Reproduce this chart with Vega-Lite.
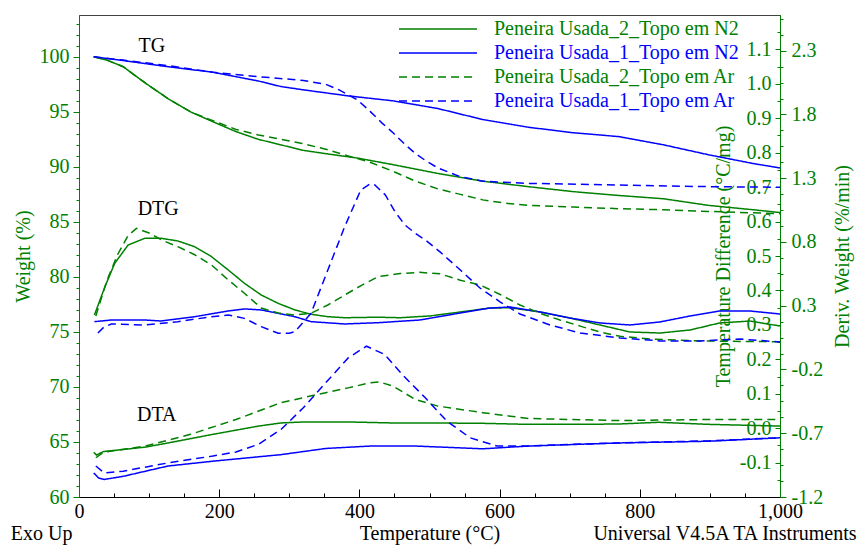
{
  "$schema": "https://vega.github.io/schema/vega-lite/v6.json",
  "width": 701,
  "height": 482,
  "autosize": {"type": "none"},
  "padding": {"left": 79, "top": 15, "right": 81, "bottom": 49},
  "background": "white",
  "config": {
    "view": {"stroke": "#444444", "strokeWidth": 1},
    "font": "Liberation Serif",
    "axis": {"labelFont": "Liberation Serif", "titleFont": "Liberation Serif", "labelFontSize": 20, "titleFontSize": 20, "titleFontWeight": "normal", "grid": false, "labelOverlap": false, "labelFlush": false, "labelBound": false},
    "legend": {"labelFont": "Liberation Serif", "labelFontSize": 20}
  },
  "datasets": {
    "tg": [
      {"s": "Peneira Usada_2_Topo em N2", "t": 21, "v": 100}, {"s": "Peneira Usada_2_Topo em N2", "t": 40, "v": 99.7}, {"s": "Peneira Usada_2_Topo em N2", "t": 63, "v": 99.1}, {"s": "Peneira Usada_2_Topo em N2", "t": 95, "v": 97.6}, {"s": "Peneira Usada_2_Topo em N2", "t": 127, "v": 96.2}, {"s": "Peneira Usada_2_Topo em N2", "t": 159, "v": 95.0}, {"s": "Peneira Usada_2_Topo em N2", "t": 191, "v": 94.1}, {"s": "Peneira Usada_2_Topo em N2", "t": 224, "v": 93.2}, {"s": "Peneira Usada_2_Topo em N2", "t": 256, "v": 92.5}, {"s": "Peneira Usada_2_Topo em N2", "t": 288, "v": 92.0}, {"s": "Peneira Usada_2_Topo em N2", "t": 320, "v": 91.5}, {"s": "Peneira Usada_2_Topo em N2", "t": 352, "v": 91.2}, {"s": "Peneira Usada_2_Topo em N2", "t": 397, "v": 90.8}, {"s": "Peneira Usada_2_Topo em N2", "t": 448, "v": 90.2}, {"s": "Peneira Usada_2_Topo em N2", "t": 512, "v": 89.4}, {"s": "Peneira Usada_2_Topo em N2", "t": 576, "v": 88.7}, {"s": "Peneira Usada_2_Topo em N2", "t": 641, "v": 88.2}, {"s": "Peneira Usada_2_Topo em N2", "t": 705, "v": 87.75}, {"s": "Peneira Usada_2_Topo em N2", "t": 770, "v": 87.4}, {"s": "Peneira Usada_2_Topo em N2", "t": 834, "v": 87.1}, {"s": "Peneira Usada_2_Topo em N2", "t": 898, "v": 86.5}, {"s": "Peneira Usada_2_Topo em N2", "t": 962, "v": 86.1}, {"s": "Peneira Usada_2_Topo em N2", "t": 1000, "v": 85.85},
      {"s": "Peneira Usada_1_Topo em N2", "t": 21, "v": 100}, {"s": "Peneira Usada_1_Topo em N2", "t": 63, "v": 99.66}, {"s": "Peneira Usada_1_Topo em N2", "t": 127, "v": 99.1}, {"s": "Peneira Usada_1_Topo em N2", "t": 191, "v": 98.6}, {"s": "Peneira Usada_1_Topo em N2", "t": 256, "v": 97.8}, {"s": "Peneira Usada_1_Topo em N2", "t": 288, "v": 97.3}, {"s": "Peneira Usada_1_Topo em N2", "t": 320, "v": 97.0}, {"s": "Peneira Usada_1_Topo em N2", "t": 384, "v": 96.45}, {"s": "Peneira Usada_1_Topo em N2", "t": 448, "v": 96.0}, {"s": "Peneira Usada_1_Topo em N2", "t": 512, "v": 95.3}, {"s": "Peneira Usada_1_Topo em N2", "t": 576, "v": 94.3}, {"s": "Peneira Usada_1_Topo em N2", "t": 641, "v": 93.6}, {"s": "Peneira Usada_1_Topo em N2", "t": 705, "v": 93.1}, {"s": "Peneira Usada_1_Topo em N2", "t": 770, "v": 92.75}, {"s": "Peneira Usada_1_Topo em N2", "t": 834, "v": 92.0}, {"s": "Peneira Usada_1_Topo em N2", "t": 898, "v": 91.1}, {"s": "Peneira Usada_1_Topo em N2", "t": 962, "v": 90.3}, {"s": "Peneira Usada_1_Topo em N2", "t": 1000, "v": 89.9},
      {"s": "Peneira Usada_2_Topo em Ar", "t": 21, "v": 100}, {"s": "Peneira Usada_2_Topo em Ar", "t": 40, "v": 99.7}, {"s": "Peneira Usada_2_Topo em Ar", "t": 63, "v": 99.1}, {"s": "Peneira Usada_2_Topo em Ar", "t": 95, "v": 97.6}, {"s": "Peneira Usada_2_Topo em Ar", "t": 127, "v": 96.2}, {"s": "Peneira Usada_2_Topo em Ar", "t": 159, "v": 95.0}, {"s": "Peneira Usada_2_Topo em Ar", "t": 191, "v": 94.2}, {"s": "Peneira Usada_2_Topo em Ar", "t": 224, "v": 93.4}, {"s": "Peneira Usada_2_Topo em Ar", "t": 256, "v": 92.9}, {"s": "Peneira Usada_2_Topo em Ar", "t": 288, "v": 92.5}, {"s": "Peneira Usada_2_Topo em Ar", "t": 320, "v": 92.1}, {"s": "Peneira Usada_2_Topo em Ar", "t": 352, "v": 91.6}, {"s": "Peneira Usada_2_Topo em Ar", "t": 384, "v": 91.0}, {"s": "Peneira Usada_2_Topo em Ar", "t": 416, "v": 90.4}, {"s": "Peneira Usada_2_Topo em Ar", "t": 448, "v": 89.6}, {"s": "Peneira Usada_2_Topo em Ar", "t": 480, "v": 88.7}, {"s": "Peneira Usada_2_Topo em Ar", "t": 512, "v": 88.0}, {"s": "Peneira Usada_2_Topo em Ar", "t": 544, "v": 87.5}, {"s": "Peneira Usada_2_Topo em Ar", "t": 576, "v": 87.0}, {"s": "Peneira Usada_2_Topo em Ar", "t": 608, "v": 86.7}, {"s": "Peneira Usada_2_Topo em Ar", "t": 641, "v": 86.5}, {"s": "Peneira Usada_2_Topo em Ar", "t": 705, "v": 86.35}, {"s": "Peneira Usada_2_Topo em Ar", "t": 770, "v": 86.2}, {"s": "Peneira Usada_2_Topo em Ar", "t": 834, "v": 86.1}, {"s": "Peneira Usada_2_Topo em Ar", "t": 898, "v": 85.95}, {"s": "Peneira Usada_2_Topo em Ar", "t": 1000, "v": 85.75},
      {"s": "Peneira Usada_1_Topo em Ar", "t": 21, "v": 100}, {"s": "Peneira Usada_1_Topo em Ar", "t": 63, "v": 99.7}, {"s": "Peneira Usada_1_Topo em Ar", "t": 127, "v": 99.2}, {"s": "Peneira Usada_1_Topo em Ar", "t": 191, "v": 98.6}, {"s": "Peneira Usada_1_Topo em Ar", "t": 256, "v": 98.2}, {"s": "Peneira Usada_1_Topo em Ar", "t": 320, "v": 97.85}, {"s": "Peneira Usada_1_Topo em Ar", "t": 352, "v": 97.5}, {"s": "Peneira Usada_1_Topo em Ar", "t": 371, "v": 97.0}, {"s": "Peneira Usada_1_Topo em Ar", "t": 397, "v": 96.1}, {"s": "Peneira Usada_1_Topo em Ar", "t": 416, "v": 95.0}, {"s": "Peneira Usada_1_Topo em Ar", "t": 432, "v": 94.0}, {"s": "Peneira Usada_1_Topo em Ar", "t": 448, "v": 93.1}, {"s": "Peneira Usada_1_Topo em Ar", "t": 464, "v": 92.1}, {"s": "Peneira Usada_1_Topo em Ar", "t": 480, "v": 91.2}, {"s": "Peneira Usada_1_Topo em Ar", "t": 496, "v": 90.5}, {"s": "Peneira Usada_1_Topo em Ar", "t": 512, "v": 89.9}, {"s": "Peneira Usada_1_Topo em Ar", "t": 544, "v": 89.1}, {"s": "Peneira Usada_1_Topo em Ar", "t": 576, "v": 88.7}, {"s": "Peneira Usada_1_Topo em Ar", "t": 641, "v": 88.5}, {"s": "Peneira Usada_1_Topo em Ar", "t": 770, "v": 88.35}, {"s": "Peneira Usada_1_Topo em Ar", "t": 898, "v": 88.2}, {"s": "Peneira Usada_1_Topo em Ar", "t": 1000, "v": 88.15}
    ],
    "dtg": [
      {"s": "Peneira Usada_2_Topo em N2", "t": 22, "v": 0.227}, {"s": "Peneira Usada_2_Topo em N2", "t": 37, "v": 0.449}, {"s": "Peneira Usada_2_Topo em N2", "t": 51, "v": 0.633}, {"s": "Peneira Usada_2_Topo em N2", "t": 70, "v": 0.776}, {"s": "Peneira Usada_2_Topo em N2", "t": 94, "v": 0.829}, {"s": "Peneira Usada_2_Topo em N2", "t": 117, "v": 0.829}, {"s": "Peneira Usada_2_Topo em N2", "t": 141, "v": 0.808}, {"s": "Peneira Usada_2_Topo em N2", "t": 165, "v": 0.763}, {"s": "Peneira Usada_2_Topo em N2", "t": 189, "v": 0.685}, {"s": "Peneira Usada_2_Topo em N2", "t": 213, "v": 0.58}, {"s": "Peneira Usada_2_Topo em N2", "t": 236, "v": 0.476}, {"s": "Peneira Usada_2_Topo em N2", "t": 260, "v": 0.384}, {"s": "Peneira Usada_2_Topo em N2", "t": 284, "v": 0.319}, {"s": "Peneira Usada_2_Topo em N2", "t": 308, "v": 0.267}, {"s": "Peneira Usada_2_Topo em N2", "t": 331, "v": 0.233}, {"s": "Peneira Usada_2_Topo em N2", "t": 355, "v": 0.214}, {"s": "Peneira Usada_2_Topo em N2", "t": 379, "v": 0.206}, {"s": "Peneira Usada_2_Topo em N2", "t": 427, "v": 0.21}, {"s": "Peneira Usada_2_Topo em N2", "t": 458, "v": 0.206}, {"s": "Peneira Usada_2_Topo em N2", "t": 501, "v": 0.22}, {"s": "Peneira Usada_2_Topo em N2", "t": 544, "v": 0.251}, {"s": "Peneira Usada_2_Topo em N2", "t": 586, "v": 0.282}, {"s": "Peneira Usada_2_Topo em N2", "t": 615, "v": 0.284}, {"s": "Peneira Usada_2_Topo em N2", "t": 658, "v": 0.251}, {"s": "Peneira Usada_2_Topo em N2", "t": 700, "v": 0.204}, {"s": "Peneira Usada_2_Topo em N2", "t": 743, "v": 0.149}, {"s": "Peneira Usada_2_Topo em N2", "t": 786, "v": 0.094}, {"s": "Peneira Usada_2_Topo em N2", "t": 829, "v": 0.086}, {"s": "Peneira Usada_2_Topo em N2", "t": 872, "v": 0.11}, {"s": "Peneira Usada_2_Topo em N2", "t": 914, "v": 0.165}, {"s": "Peneira Usada_2_Topo em N2", "t": 957, "v": 0.18}, {"s": "Peneira Usada_2_Topo em N2", "t": 1000, "v": 0.141},
      {"s": "Peneira Usada_1_Topo em N2", "t": 22, "v": 0.175}, {"s": "Peneira Usada_1_Topo em N2", "t": 46, "v": 0.188}, {"s": "Peneira Usada_1_Topo em N2", "t": 94, "v": 0.188}, {"s": "Peneira Usada_1_Topo em N2", "t": 117, "v": 0.18}, {"s": "Peneira Usada_1_Topo em N2", "t": 165, "v": 0.214}, {"s": "Peneira Usada_1_Topo em N2", "t": 213, "v": 0.259}, {"s": "Peneira Usada_1_Topo em N2", "t": 236, "v": 0.275}, {"s": "Peneira Usada_1_Topo em N2", "t": 260, "v": 0.267}, {"s": "Peneira Usada_1_Topo em N2", "t": 308, "v": 0.214}, {"s": "Peneira Usada_1_Topo em N2", "t": 331, "v": 0.175}, {"s": "Peneira Usada_1_Topo em N2", "t": 379, "v": 0.157}, {"s": "Peneira Usada_1_Topo em N2", "t": 427, "v": 0.167}, {"s": "Peneira Usada_1_Topo em N2", "t": 486, "v": 0.188}, {"s": "Peneira Usada_1_Topo em N2", "t": 544, "v": 0.243}, {"s": "Peneira Usada_1_Topo em N2", "t": 586, "v": 0.282}, {"s": "Peneira Usada_1_Topo em N2", "t": 615, "v": 0.29}, {"s": "Peneira Usada_1_Topo em N2", "t": 658, "v": 0.251}, {"s": "Peneira Usada_1_Topo em N2", "t": 700, "v": 0.204}, {"s": "Peneira Usada_1_Topo em N2", "t": 743, "v": 0.165}, {"s": "Peneira Usada_1_Topo em N2", "t": 786, "v": 0.149}, {"s": "Peneira Usada_1_Topo em N2", "t": 829, "v": 0.173}, {"s": "Peneira Usada_1_Topo em N2", "t": 872, "v": 0.22}, {"s": "Peneira Usada_1_Topo em N2", "t": 914, "v": 0.259}, {"s": "Peneira Usada_1_Topo em N2", "t": 957, "v": 0.259}, {"s": "Peneira Usada_1_Topo em N2", "t": 1000, "v": 0.235},
      {"s": "Peneira Usada_2_Topo em Ar", "t": 24, "v": 0.22}, {"s": "Peneira Usada_2_Topo em Ar", "t": 40, "v": 0.5}, {"s": "Peneira Usada_2_Topo em Ar", "t": 55, "v": 0.7}, {"s": "Peneira Usada_2_Topo em Ar", "t": 70, "v": 0.85}, {"s": "Peneira Usada_2_Topo em Ar", "t": 82, "v": 0.907}, {"s": "Peneira Usada_2_Topo em Ar", "t": 100, "v": 0.87}, {"s": "Peneira Usada_2_Topo em Ar", "t": 120, "v": 0.81}, {"s": "Peneira Usada_2_Topo em Ar", "t": 141, "v": 0.763}, {"s": "Peneira Usada_2_Topo em Ar", "t": 165, "v": 0.7}, {"s": "Peneira Usada_2_Topo em Ar", "t": 189, "v": 0.62}, {"s": "Peneira Usada_2_Topo em Ar", "t": 213, "v": 0.502}, {"s": "Peneira Usada_2_Topo em Ar", "t": 236, "v": 0.398}, {"s": "Peneira Usada_2_Topo em Ar", "t": 260, "v": 0.282}, {"s": "Peneira Usada_2_Topo em Ar", "t": 284, "v": 0.243}, {"s": "Peneira Usada_2_Topo em Ar", "t": 308, "v": 0.227}, {"s": "Peneira Usada_2_Topo em Ar", "t": 331, "v": 0.241}, {"s": "Peneira Usada_2_Topo em Ar", "t": 355, "v": 0.306}, {"s": "Peneira Usada_2_Topo em Ar", "t": 379, "v": 0.384}, {"s": "Peneira Usada_2_Topo em Ar", "t": 403, "v": 0.46}, {"s": "Peneira Usada_2_Topo em Ar", "t": 427, "v": 0.528}, {"s": "Peneira Usada_2_Topo em Ar", "t": 458, "v": 0.552}, {"s": "Peneira Usada_2_Topo em Ar", "t": 486, "v": 0.562}, {"s": "Peneira Usada_2_Topo em Ar", "t": 515, "v": 0.55}, {"s": "Peneira Usada_2_Topo em Ar", "t": 544, "v": 0.5}, {"s": "Peneira Usada_2_Topo em Ar", "t": 572, "v": 0.463}, {"s": "Peneira Usada_2_Topo em Ar", "t": 600, "v": 0.39}, {"s": "Peneira Usada_2_Topo em Ar", "t": 629, "v": 0.306}, {"s": "Peneira Usada_2_Topo em Ar", "t": 658, "v": 0.24}, {"s": "Peneira Usada_2_Topo em Ar", "t": 686, "v": 0.188}, {"s": "Peneira Usada_2_Topo em Ar", "t": 715, "v": 0.14}, {"s": "Peneira Usada_2_Topo em Ar", "t": 743, "v": 0.094}, {"s": "Peneira Usada_2_Topo em Ar", "t": 772, "v": 0.06}, {"s": "Peneira Usada_2_Topo em Ar", "t": 815, "v": 0.039}, {"s": "Peneira Usada_2_Topo em Ar", "t": 886, "v": 0.024}, {"s": "Peneira Usada_2_Topo em Ar", "t": 943, "v": 0.02}, {"s": "Peneira Usada_2_Topo em Ar", "t": 1000, "v": 0.018},
      {"s": "Peneira Usada_1_Topo em Ar", "t": 27, "v": 0.086}, {"s": "Peneira Usada_1_Topo em Ar", "t": 35, "v": 0.13}, {"s": "Peneira Usada_1_Topo em Ar", "t": 46, "v": 0.157}, {"s": "Peneira Usada_1_Topo em Ar", "t": 94, "v": 0.149}, {"s": "Peneira Usada_1_Topo em Ar", "t": 141, "v": 0.175}, {"s": "Peneira Usada_1_Topo em Ar", "t": 189, "v": 0.214}, {"s": "Peneira Usada_1_Topo em Ar", "t": 213, "v": 0.227}, {"s": "Peneira Usada_1_Topo em Ar", "t": 236, "v": 0.201}, {"s": "Peneira Usada_1_Topo em Ar", "t": 260, "v": 0.136}, {"s": "Peneira Usada_1_Topo em Ar", "t": 284, "v": 0.084}, {"s": "Peneira Usada_1_Topo em Ar", "t": 300, "v": 0.085}, {"s": "Peneira Usada_1_Topo em Ar", "t": 308, "v": 0.097}, {"s": "Peneira Usada_1_Topo em Ar", "t": 331, "v": 0.241}, {"s": "Peneira Usada_1_Topo em Ar", "t": 355, "v": 0.58}, {"s": "Peneira Usada_1_Topo em Ar", "t": 379, "v": 0.92}, {"s": "Peneira Usada_1_Topo em Ar", "t": 402, "v": 1.208}, {"s": "Peneira Usada_1_Topo em Ar", "t": 415, "v": 1.255}, {"s": "Peneira Usada_1_Topo em Ar", "t": 422, "v": 1.247}, {"s": "Peneira Usada_1_Topo em Ar", "t": 437, "v": 1.169}, {"s": "Peneira Usada_1_Topo em Ar", "t": 451, "v": 1.035}, {"s": "Peneira Usada_1_Topo em Ar", "t": 465, "v": 0.933}, {"s": "Peneira Usada_1_Topo em Ar", "t": 479, "v": 0.871}, {"s": "Peneira Usada_1_Topo em Ar", "t": 494, "v": 0.816}, {"s": "Peneira Usada_1_Topo em Ar", "t": 515, "v": 0.722}, {"s": "Peneira Usada_1_Topo em Ar", "t": 544, "v": 0.58}, {"s": "Peneira Usada_1_Topo em Ar", "t": 572, "v": 0.439}, {"s": "Peneira Usada_1_Topo em Ar", "t": 601, "v": 0.329}, {"s": "Peneira Usada_1_Topo em Ar", "t": 629, "v": 0.235}, {"s": "Peneira Usada_1_Topo em Ar", "t": 672, "v": 0.149}, {"s": "Peneira Usada_1_Topo em Ar", "t": 715, "v": 0.086}, {"s": "Peneira Usada_1_Topo em Ar", "t": 772, "v": 0.047}, {"s": "Peneira Usada_1_Topo em Ar", "t": 829, "v": 0.024}, {"s": "Peneira Usada_1_Topo em Ar", "t": 886, "v": 0.024}, {"s": "Peneira Usada_1_Topo em Ar", "t": 943, "v": 0.039}, {"s": "Peneira Usada_1_Topo em Ar", "t": 1000, "v": 0.016}
    ],
    "dta": [
      {"s": "Peneira Usada_2_Topo em N2", "t": 21, "v": -0.07}, {"s": "Peneira Usada_2_Topo em N2", "t": 25, "v": -0.078}, {"s": "Peneira Usada_2_Topo em N2", "t": 35, "v": -0.068}, {"s": "Peneira Usada_2_Topo em N2", "t": 63, "v": -0.062}, {"s": "Peneira Usada_2_Topo em N2", "t": 95, "v": -0.055}, {"s": "Peneira Usada_2_Topo em N2", "t": 127, "v": -0.043}, {"s": "Peneira Usada_2_Topo em N2", "t": 191, "v": -0.018}, {"s": "Peneira Usada_2_Topo em N2", "t": 256, "v": 0.006}, {"s": "Peneira Usada_2_Topo em N2", "t": 288, "v": 0.015}, {"s": "Peneira Usada_2_Topo em N2", "t": 320, "v": 0.018}, {"s": "Peneira Usada_2_Topo em N2", "t": 384, "v": 0.018}, {"s": "Peneira Usada_2_Topo em N2", "t": 448, "v": 0.015}, {"s": "Peneira Usada_2_Topo em N2", "t": 512, "v": 0.015}, {"s": "Peneira Usada_2_Topo em N2", "t": 576, "v": 0.014}, {"s": "Peneira Usada_2_Topo em N2", "t": 641, "v": 0.011}, {"s": "Peneira Usada_2_Topo em N2", "t": 705, "v": 0.011}, {"s": "Peneira Usada_2_Topo em N2", "t": 770, "v": 0.012}, {"s": "Peneira Usada_2_Topo em N2", "t": 827, "v": 0.017}, {"s": "Peneira Usada_2_Topo em N2", "t": 898, "v": 0.011}, {"s": "Peneira Usada_2_Topo em N2", "t": 1000, "v": 0.006},
      {"s": "Peneira Usada_1_Topo em N2", "t": 21, "v": -0.13}, {"s": "Peneira Usada_1_Topo em N2", "t": 28, "v": -0.145}, {"s": "Peneira Usada_1_Topo em N2", "t": 36, "v": -0.149}, {"s": "Peneira Usada_1_Topo em N2", "t": 63, "v": -0.14}, {"s": "Peneira Usada_1_Topo em N2", "t": 95, "v": -0.125}, {"s": "Peneira Usada_1_Topo em N2", "t": 127, "v": -0.11}, {"s": "Peneira Usada_1_Topo em N2", "t": 191, "v": -0.096}, {"s": "Peneira Usada_1_Topo em N2", "t": 288, "v": -0.077}, {"s": "Peneira Usada_1_Topo em N2", "t": 352, "v": -0.059}, {"s": "Peneira Usada_1_Topo em N2", "t": 416, "v": -0.052}, {"s": "Peneira Usada_1_Topo em N2", "t": 480, "v": -0.052}, {"s": "Peneira Usada_1_Topo em N2", "t": 576, "v": -0.06}, {"s": "Peneira Usada_1_Topo em N2", "t": 641, "v": -0.052}, {"s": "Peneira Usada_1_Topo em N2", "t": 770, "v": -0.043}, {"s": "Peneira Usada_1_Topo em N2", "t": 898, "v": -0.038}, {"s": "Peneira Usada_1_Topo em N2", "t": 1000, "v": -0.028},
      {"s": "Peneira Usada_2_Topo em Ar", "t": 24, "v": -0.086}, {"s": "Peneira Usada_2_Topo em Ar", "t": 35, "v": -0.07}, {"s": "Peneira Usada_2_Topo em Ar", "t": 95, "v": -0.052}, {"s": "Peneira Usada_2_Topo em Ar", "t": 159, "v": -0.018}, {"s": "Peneira Usada_2_Topo em Ar", "t": 224, "v": 0.025}, {"s": "Peneira Usada_2_Topo em Ar", "t": 288, "v": 0.074}, {"s": "Peneira Usada_2_Topo em Ar", "t": 352, "v": 0.103}, {"s": "Peneira Usada_2_Topo em Ar", "t": 384, "v": 0.117}, {"s": "Peneira Usada_2_Topo em Ar", "t": 416, "v": 0.132}, {"s": "Peneira Usada_2_Topo em Ar", "t": 429, "v": 0.134}, {"s": "Peneira Usada_2_Topo em Ar", "t": 448, "v": 0.122}, {"s": "Peneira Usada_2_Topo em Ar", "t": 480, "v": 0.083}, {"s": "Peneira Usada_2_Topo em Ar", "t": 512, "v": 0.064}, {"s": "Peneira Usada_2_Topo em Ar", "t": 576, "v": 0.045}, {"s": "Peneira Usada_2_Topo em Ar", "t": 641, "v": 0.028}, {"s": "Peneira Usada_2_Topo em Ar", "t": 770, "v": 0.022}, {"s": "Peneira Usada_2_Topo em Ar", "t": 898, "v": 0.025}, {"s": "Peneira Usada_2_Topo em Ar", "t": 1000, "v": 0.025},
      {"s": "Peneira Usada_1_Topo em Ar", "t": 24, "v": -0.11}, {"s": "Peneira Usada_1_Topo em Ar", "t": 36, "v": -0.13}, {"s": "Peneira Usada_1_Topo em Ar", "t": 63, "v": -0.125}, {"s": "Peneira Usada_1_Topo em Ar", "t": 127, "v": -0.101}, {"s": "Peneira Usada_1_Topo em Ar", "t": 191, "v": -0.081}, {"s": "Peneira Usada_1_Topo em Ar", "t": 224, "v": -0.069}, {"s": "Peneira Usada_1_Topo em Ar", "t": 256, "v": -0.047}, {"s": "Peneira Usada_1_Topo em Ar", "t": 288, "v": -0.004}, {"s": "Peneira Usada_1_Topo em Ar", "t": 320, "v": 0.059}, {"s": "Peneira Usada_1_Topo em Ar", "t": 352, "v": 0.132}, {"s": "Peneira Usada_1_Topo em Ar", "t": 384, "v": 0.204}, {"s": "Peneira Usada_1_Topo em Ar", "t": 410, "v": 0.238}, {"s": "Peneira Usada_1_Topo em Ar", "t": 436, "v": 0.214}, {"s": "Peneira Usada_1_Topo em Ar", "t": 461, "v": 0.156}, {"s": "Peneira Usada_1_Topo em Ar", "t": 494, "v": 0.088}, {"s": "Peneira Usada_1_Topo em Ar", "t": 525, "v": 0.02}, {"s": "Peneira Usada_1_Topo em Ar", "t": 558, "v": -0.028}, {"s": "Peneira Usada_1_Topo em Ar", "t": 596, "v": -0.052}, {"s": "Peneira Usada_1_Topo em Ar", "t": 641, "v": -0.052}, {"s": "Peneira Usada_1_Topo em Ar", "t": 705, "v": -0.047}, {"s": "Peneira Usada_1_Topo em Ar", "t": 770, "v": -0.043}, {"s": "Peneira Usada_1_Topo em Ar", "t": 898, "v": -0.037}, {"s": "Peneira Usada_1_Topo em Ar", "t": 1000, "v": -0.028}
    ],
    "notes": [
      {"label": "TG", "t": 104, "v": 101.0},
      {"label": "DTG", "t": 113, "v": 86.2},
      {"label": "DTA", "t": 111, "v": 67.45},
      {"label": "Exo Up", "t": -53.4, "v": 56.6},
      {"label": "Universal V4.5A TA Instruments", "t": 921.5, "v": 56.6}
    ]
  },
  "layer": [
    {
      "data": {"name": "tg"},
      "mark": {"type": "line", "strokeWidth": 1.5},
      "encoding": {
        "x": {"field": "t", "type": "quantitative", "scale": {"domain": [0, 1000], "nice": false, "zero": false},
          "axis": {"orient": "bottom", "values": [0, 200, 400, 600, 800, 1000], "ticks": false, "tickSize": 0, "labelPadding": 4, "labelColor": "black", "domainColor": "black", "domainWidth": 1, "title": "Temperature (°C)", "titleColor": "black", "titlePadding": 2}},
        "y": {"field": "v", "type": "quantitative", "scale": {"domain": [60, 103.8], "nice": false, "zero": false},
          "axis": {"orient": "left", "values": [60,61,62,63,64,65,66,67,68,69,70,71,72,73,74,75,76,77,78,79,80,81,82,83,84,85,86,87,88,89,90,91,92,93,94,95,96,97,98,99,100,101,102,103],
            "labelExpr": "datum.value % 5 === 0 ? datum.label : ''",
            "tickSize": {"condition": {"test": "datum.value % 5 === 0", "value": 6}, "value": 3},
            "labelPadding": 4, "tickColor": "#008000", "domainColor": "#008000", "labelColor": "#008000", "title": "Weight (%)", "titleColor": "#008000", "titlePadding": 6}},
        "color": {"field": "s", "type": "nominal",
          "scale": {"domain": ["Peneira Usada_2_Topo em N2", "Peneira Usada_1_Topo em N2", "Peneira Usada_2_Topo em Ar", "Peneira Usada_1_Topo em Ar"], "range": ["#008000", "#0000ff", "#008000", "#0000ff"]},
          "legend": {"orient": "none", "legendX": 319, "legendY": 4, "title": null, "padding": 0, "symbolType": "stroke", "symbolSize": 6084, "symbolStrokeWidth": 1.5, "clipHeight": 20, "rowPadding": 4, "labelOffset": 16, "labelLimit": 400, "labelFontSize": 20, "labelFont": "Liberation Serif",
            "labelColor": {"expr": "indexof(datum.value, '_1_') >= 0 ? '#0000ff' : '#008000'"}}},
        "strokeDash": {"field": "s", "type": "nominal",
          "scale": {"domain": ["Peneira Usada_2_Topo em N2", "Peneira Usada_1_Topo em N2", "Peneira Usada_2_Topo em Ar", "Peneira Usada_1_Topo em Ar"], "range": [[1, 0], [1, 0], [8, 5], [8, 5]]},
          "legend": {"orient": "none", "legendX": 319, "legendY": 4, "title": null, "padding": 0, "symbolType": "stroke", "symbolSize": 6084, "symbolStrokeWidth": 1.5, "clipHeight": 20, "rowPadding": 4, "labelOffset": 16, "labelLimit": 400, "labelFontSize": 20, "labelFont": "Liberation Serif",
            "labelColor": {"expr": "indexof(datum.value, '_1_') >= 0 ? '#0000ff' : '#008000'"}}}
      }
    },
    {
      "data": {"name": "notes"},
      "mark": {"type": "text", "fontSize": 20, "font": "Liberation Serif", "color": "black", "align": "center", "baseline": "middle"},
      "encoding": {
        "x": {"field": "t", "type": "quantitative", "scale": {"domain": [0, 1000], "nice": false, "zero": false}, "axis": null},
        "y": {"field": "v", "type": "quantitative", "scale": {"domain": [60, 103.8], "nice": false, "zero": false}, "axis": null},
        "text": {"field": "label", "type": "nominal"}
      }
    },
    {
      "data": {"name": "dtg"},
      "mark": {"type": "line", "strokeWidth": 1.5},
      "encoding": {
        "x": {"field": "t", "type": "quantitative", "scale": {"domain": [0, 1000], "nice": false, "zero": false},
          "axis": {"orient": "top", "offset": -482, "values": [0,50,100,150,200,250,300,350,400,450,500,550,600,650,700,750,800,850,900,950,1000], "labels": false, "domain": false, "title": null, "tickColor": "black",
            "tickSize": {"condition": {"test": "datum.value % 200 === 0", "value": 8}, "value": 4}}},
        "y": {"field": "v", "type": "quantitative", "scale": {"domain": [-1.2, 2.58], "nice": false, "zero": false},
          "axis": {"orient": "right", "values": [-1.2,-1.075,-0.95,-0.825,-0.7,-0.575,-0.45,-0.325,-0.2,-0.075,0.05,0.175,0.3,0.425,0.55,0.675,0.8,0.925,1.05,1.175,1.3,1.425,1.55,1.675,1.8,1.925,2.05,2.175,2.3,2.425,2.55],
            "labelExpr": "indexof([-1.2,-0.7,-0.2,0.3,0.8,1.3,1.8,2.3], datum.value) >= 0 ? replace(format(datum.value, '.1f'), '\u2212', '-') : ''",
            "tickSize": {"condition": {"test": "indexof([-1.2,-0.7,-0.2,0.3,0.8,1.3,1.8,2.3], datum.value) >= 0", "value": 6}, "value": 3},
            "labelPadding": 5, "tickColor": "#008000", "domainColor": "#008000", "labelColor": "#008000", "title": "Deriv. Weight (%/min)", "titleColor": "#008000", "titleAngle": 270, "titlePadding": 30}},
        "color": {"field": "s", "type": "nominal", "legend": null},
        "strokeDash": {"field": "s", "type": "nominal", "legend": null}
      }
    },
    {
      "data": {"name": "dta"},
      "mark": {"type": "line", "strokeWidth": 1.5},
      "encoding": {
        "x": {"field": "t", "type": "quantitative", "scale": {"domain": [0, 1000], "nice": false, "zero": false}, "axis": null},
        "y": {"field": "v", "type": "quantitative", "scale": {"domain": [-0.2, 1.2], "nice": false, "zero": false},
          "axis": {"orient": "left", "offset": -701, "values": [-0.15,-0.1,-0.05,0,0.05,0.1,0.15,0.2,0.25,0.3,0.35,0.4,0.45,0.5,0.55,0.6,0.65,0.7,0.75,0.8,0.85,0.9,0.95,1,1.05,1.1,1.15],
            "labelExpr": "indexof([-0.1,0,0.1,0.2,0.3,0.4,0.5,0.6,0.7,0.8,0.9,1,1.1], datum.value) >= 0 ? replace(format(datum.value, '.1f'), '\u2212', '-') : ''",
            "tickSize": {"condition": {"test": "indexof([-0.1,0,0.1,0.2,0.3,0.4,0.5,0.6,0.7,0.8,0.9,1,1.1], datum.value) >= 0", "value": 5}, "value": 3},
            "labelPadding": 4, "tickColor": "#008000", "domainColor": "#008000", "labelColor": "#008000", "title": "Temperature Difference (°C/mg)", "titleColor": "#008000", "titlePadding": 6}},
        "color": {"field": "s", "type": "nominal", "legend": null},
        "strokeDash": {"field": "s", "type": "nominal", "legend": null}
      }
    }
  ],
  "resolve": {"scale": {"y": "independent"}, "axis": {"x": "independent", "y": "independent"}}
}
